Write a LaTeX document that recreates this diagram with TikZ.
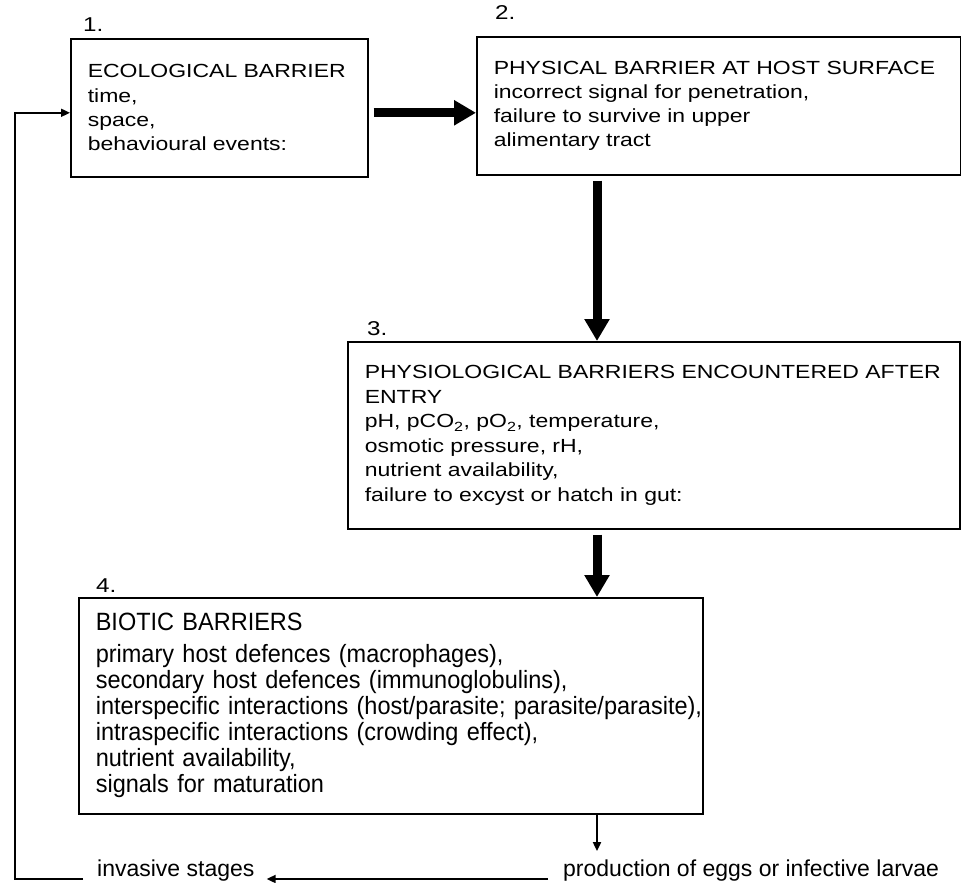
\documentclass[tikz,border=0pt]{standalone}
\usepackage{fontspec}
\setmainfont{Liberation Sans}
\newfontfamily\widesans[FakeStretch=1.21]{Liberation Sans}
\newfontfamily\narrowsans[FakeStretch=0.94]{Liberation Sans}
\usetikzlibrary{arrows.meta,calc}

\begin{document}
\begin{tikzpicture}[
   x=1pt, y=-1pt,
   barrier/.style={draw, line width=1.6pt, align=left, anchor=north west,
      inner xsep=17pt, inner ysep=0pt,
      font=\widesans\fontsize{19pt}{24.3pt}\selectfont},
   bioticbox/.style={barrier, font=\narrowsans\fontsize{25pt}{26pt}\selectfont},
   numlabel/.style={anchor=base west, inner sep=0pt,
      font=\widesans\fontsize{20pt}{22pt}\selectfont},
   stagelabel/.style={anchor=base west, inner sep=0pt,
      font=\fontsize{23pt}{26pt}\selectfont},
   bigarrow/.style={-{Triangle[length=22pt,width=24pt]}, line width=9pt},
   thinarrow/.style={-{Triangle[length=9pt,width=8pt]}, line width=1.8pt,
      line join=miter}
]
\useasboundingbox (0,0) rectangle (961,883);

\node[barrier, text width=263pt, minimum height=138pt] (eco) at (70,38)
   {ECOLOGICAL BARRIER\\time,\\space,\\behavioural events:};
\node[barrier, text width=450pt, minimum height=138pt] (phys) at (476,36)
   {\mbox{PHYSICAL BARRIER AT HOST SURFACE}\\incorrect signal for penetration,\\
    failure to survive in upper\\alimentary tract};
\node[barrier, text width=578pt, minimum height=187pt,
   font=\widesans\fontsize{19pt}{24.5pt}\selectfont] (physio) at (347,341)
   {PHYSIOLOGICAL BARRIERS ENCOUNTERED AFTER\\ENTRY\\
    pH, pCO\textsubscript{2}, pO\textsubscript{2}, temperature,\\
    osmotic pressure, rH,\\nutrient availability,\\
    failure to excyst or hatch in gut:};
\node[bioticbox, text width=590pt, minimum height=216pt] (biotic) at (78,597)
   {BIOTIC BARRIERS\\[6pt]primary host defences (macrophages),\\
    secondary host defences (immunoglobulins),\\
    \mbox{interspecific interactions (host/parasite; parasite/parasite),}\\
    intraspecific interactions (crowding effect),\\
    nutrient availability,\\signals for maturation};

\node[numlabel] (n1) at ($(eco.north west)+(13,-6)$) {1.};
\node[numlabel] (n2) at ($(phys.north west)+(19,-16)$) {2.};
\node[numlabel] (n3) at ($(physio.north west)+(20,-6)$) {3.};
\node[numlabel] (n4) at ($(biotic.north west)+(18,-5)$) {4.};

\node[stagelabel] (invasive) at (97,876) {invasive stages};
\node[stagelabel] (prod) at (563,876) {production of eggs or infective larvae};

\coordinate (spine) at (597,0);
\coordinate (leftrail) at (15,0);
\coordinate (a12) at ($(eco.east)+(5,5)$);

\draw[bigarrow] (a12) -- (a12 -| phys.west);
\draw[bigarrow] ($(phys.south -| spine)+(0,5)$) -- (physio.north -| spine);
\draw[bigarrow] ($(physio.south -| spine)+(0,5)$) -- (biotic.north -| spine);
\draw[thinarrow] (biotic.south -| spine) -- ($(prod.north -| spine)+(0,-8)$);
\draw[thinarrow] ($(prod.base west)+(-15,3)$) -- ($(invasive.base east)+(12,3)$);
\draw[thinarrow] ($(invasive.base west)+(-14,3)$) -| (a12 -| leftrail)
   -- (a12 -| eco.west);
\end{tikzpicture}
\end{document}
